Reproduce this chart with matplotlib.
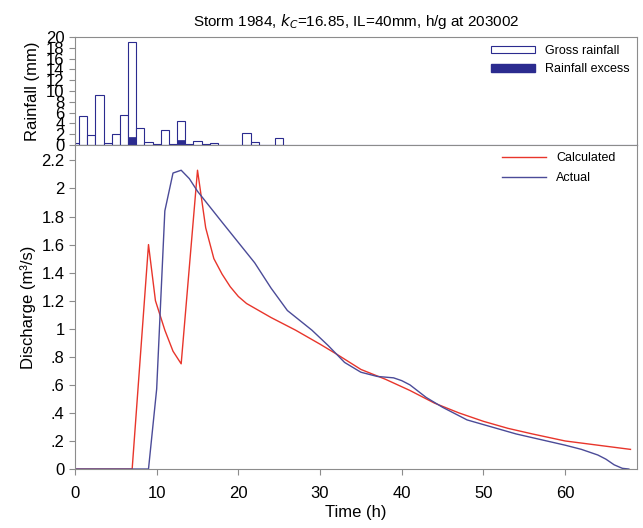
import matplotlib
matplotlib.use("Agg")
import matplotlib.pyplot as plt
from matplotlib.patches import Patch
from matplotlib.lines import Line2D
from matplotlib.ticker import FuncFormatter

plt.rcParams["font.family"] = ["Liberation Sans", "DejaVu Sans"]

# ---- data ----
rain_hours  = list(range(26))
gross_rain  = [0.4, 5.4, 1.9, 9.3, 0.4, 2.1, 5.6, 19.0, 3.2, 0.5, 0.1, 2.8, 0.2,
               4.5, 0.1, 0.7, 0.1, 0.3, 0.0, 0.0, 0.0, 2.3, 0.5, 0.0, 0.0, 1.3]
excess_rain = [0, 0, 0, 0, 0, 0, 0, 1.4, 0, 0, 0, 0, 0,
               1.0, 0, 0, 0, 0, 0, 0, 0, 0, 0, 0, 0, 0]

calc_t = [0, 7, 9, 9.85, 11, 12, 13, 15, 16, 17, 18, 19, 20, 21, 24, 27, 30,
          32, 35, 38, 41, 44, 47, 50, 53, 56, 60, 64, 68]
calc_q = [0, 0, 1.60, 1.20, 0.99, 0.84, 0.75, 2.13, 1.72, 1.50, 1.39, 1.30, 1.23,
          1.18, 1.08, 0.99, 0.89, 0.82, 0.71, 0.64, 0.56, 0.47, 0.40, 0.34,
          0.29, 0.25, 0.20, 0.17, 0.14]

act_t = [0, 9, 10, 11, 12, 13, 14, 15, 18, 22, 24, 26, 29, 31, 33, 35, 37, 39,
         40, 41, 43, 45, 48, 51, 54, 57, 60, 62, 64, 65, 66, 67, 67.8]
act_q = [0, 0, 0.57, 1.84, 2.11, 2.13, 2.07, 1.98, 1.76, 1.47, 1.29, 1.13, 0.99,
         0.88, 0.76, 0.69, 0.66, 0.65, 0.63, 0.60, 0.51, 0.44, 0.35, 0.30, 0.25,
         0.21, 0.17, 0.14, 0.10, 0.07, 0.03, 0.005, 0]

NAVY = "#2b2b8f"
RED = "#e8352b"
BLUE = "#4b4b98"
GREY = "#8c8c8c"

fig = plt.figure(figsize=(6.43, 5.28), dpi=100)
ax_r = fig.add_axes([0.1166, 0.7254, 0.8741, 0.2045])
ax_q = fig.add_axes([0.1166, 0.1117, 0.8741, 0.6137], sharex=ax_r)

# rainfall panel
ax_r.bar(rain_hours, gross_rain, width=1.0, facecolor="white", edgecolor=NAVY, lw=0.8,
         label="Gross rainfall")
ax_r.bar(rain_hours, excess_rain, width=1.0, facecolor=NAVY, edgecolor=NAVY, lw=0.5,
         label="Rainfall excess")
ax_r.set_ylim(0, 20)
ax_r.set_yticks(range(0, 21, 2))
ax_r.set_ylabel("Rainfall (mm)", fontsize=12)
ax_r.tick_params(axis="x", bottom=False, labelbottom=False)
ax_r.tick_params(axis="y", labelsize=12, length=4, color=GREY)
for s in ax_r.spines.values():
    s.set_color(GREY)
ax_r.spines["bottom"].set_color(NAVY)
h_r = [Patch(facecolor="white", edgecolor=NAVY, lw=0.8), Patch(facecolor=NAVY, edgecolor=NAVY)]
ax_r.legend(h_r, ["Gross rainfall", "Rainfall excess"], loc="upper right", frameon=False,
            fontsize=9, handlelength=3.5, handleheight=0.5, handletextpad=0.8,
            borderaxespad=0.2, labelspacing=0.55, bbox_to_anchor=(1.0, 1.0))
ax_r.set_title("Storm 1984, $k_C$=16.85, IL=40mm, h/g at 203002", fontsize=11, pad=8)

# discharge panel
ax_q.plot(calc_t, calc_q, color=RED, lw=1.0, label="Calculated")
ax_q.plot(act_t, act_q, color=BLUE, lw=1.0, label="Actual")
ax_q.set_xlim(0, 68.8)
ax_q.set_ylim(0, 2.31)
ax_q.set_yticks([i * 0.2 for i in range(12)])
ax_q.set_xticks(range(0, 61, 10))


def fmt(v, _):
    s = f"{v:.1f}".rstrip("0").rstrip(".")
    if s.startswith("0."):
        s = s[1:]
    return s


ax_q.yaxis.set_major_formatter(FuncFormatter(fmt))
ax_q.tick_params(labelsize=12, length=4, color=GREY)
ax_q.tick_params(axis="x", pad=8)
for s in ax_q.spines.values():
    s.set_color(GREY)
ax_q.set_xlabel("Time (h)", fontsize=12, labelpad=3)
ax_q.set_ylabel("Discharge (m³/s)", fontsize=12)
h_q = [Line2D([], [], color=RED, lw=1.0), Line2D([], [], color=BLUE, lw=1.0)]
ax_q.legend(h_q, ["Calculated", "Actual"], loc="upper right", frameon=False, fontsize=9,
            handlelength=3.5, handletextpad=0.8, borderaxespad=0.2, labelspacing=0.6,
            bbox_to_anchor=(0.975, 1.0))

fig.align_ylabels([ax_r, ax_q])
fig.savefig("out.png", dpi=100)
